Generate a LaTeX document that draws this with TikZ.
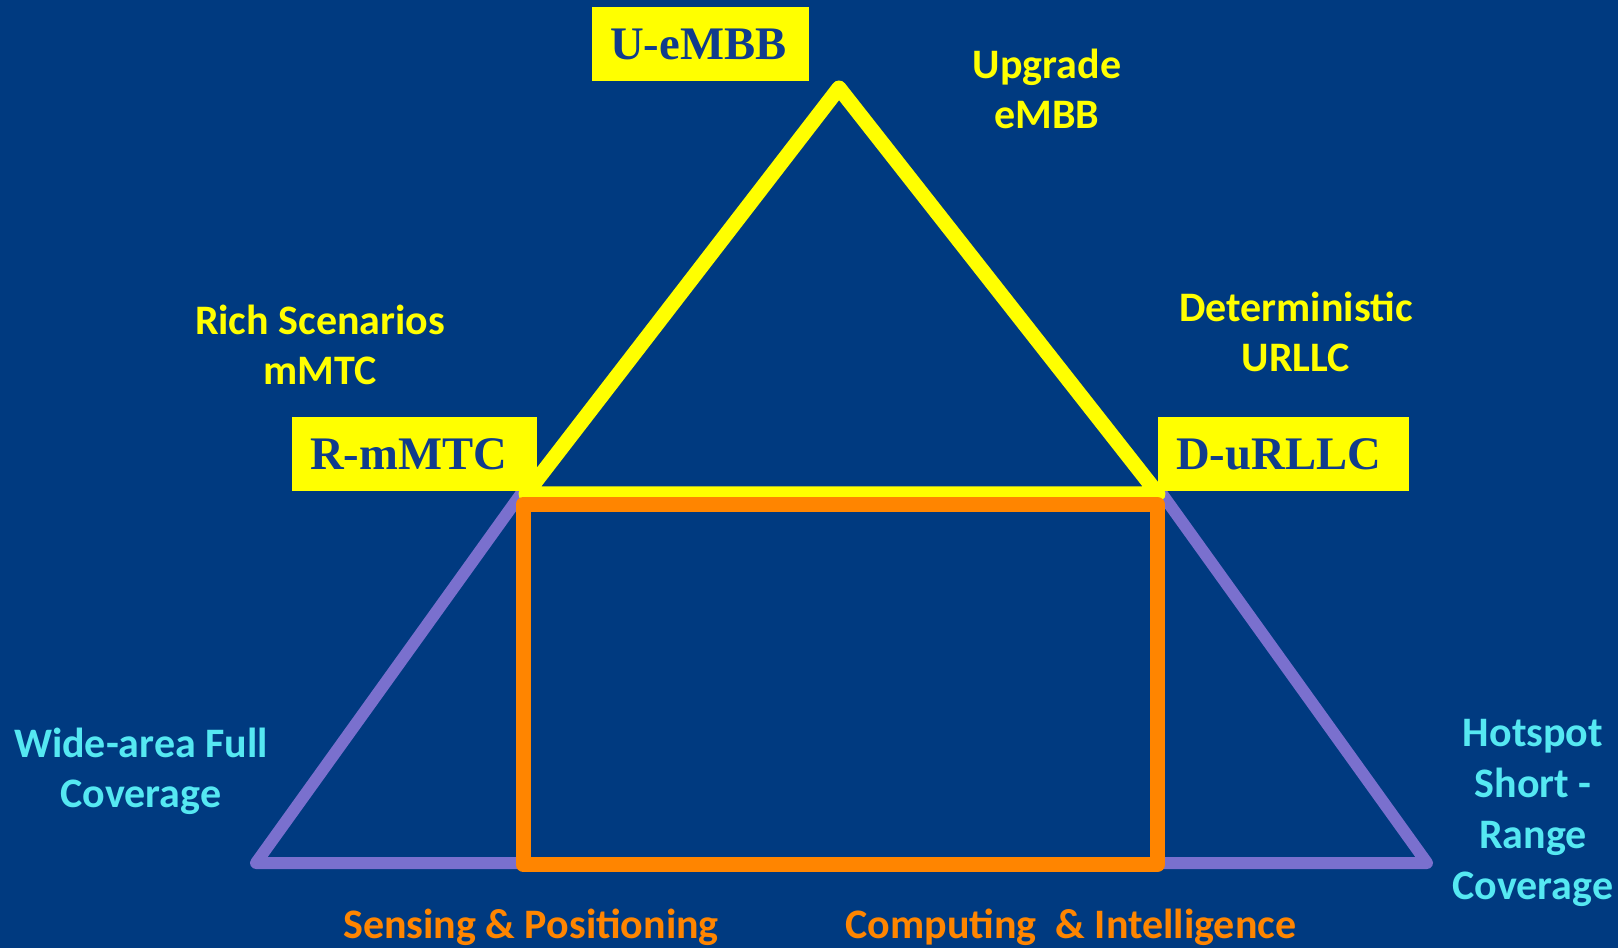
\documentclass[tikz,border=0pt]{standalone}
\usepackage{fontspec}
\setmainfont{Carlito}
\newfontfamily\boxfont{Liberation Serif}
\definecolor{bgblue}{RGB}{0,58,128}
\definecolor{boxtext}{RGB}{16,60,140}
\definecolor{tyellow}{RGB}{255,255,0}
\definecolor{tcyan}{RGB}{85,232,242}
\definecolor{torange}{RGB}{255,133,0}
\definecolor{tpurple}{RGB}{122,112,206}
\begin{document}
\begin{tikzpicture}[x=0.75pt,y=-0.75pt,
  lbl/.style={font=\bfseries\fontsize{31.5}{37.5}\selectfont, align=center, inner sep=0pt},
  ybox/.style={fill=tyellow, anchor=north west, minimum height=55.5pt, inner xsep=13.5pt, inner ysep=0pt,
    align=left, font=\boxfont\bfseries\fontsize{35}{40}\selectfont, text=boxtext},
  tri/.style={line width=11.25pt, line join=round, line cap=round}]
\fill[bgblue] (0,0) rectangle (1618,948);
\useasboundingbox (0,0) rectangle (1618,948);
% coordinates
\coordinate (apex) at (839,88);
\coordinate (yl) at (526,494);
\coordinate (yr) at (1158,494);
\coordinate (pl) at (521,494);
\coordinate (pr) at (1162,494);
\coordinate (pbl) at (256,863);
\coordinate (pbr) at (1427,863);
\coordinate (o1) at (523,504.5);
\coordinate (o2) at (1157.5,864.5);
% purple trapezoid
\draw[tpurple, line width=9pt, line join=round] (pl) -- (pbl) -- (pbr) -- (pr) -- cycle;
% yellow triangle
\draw[tri, tyellow] (yl) -- (apex) -- (yr) -- cycle;
% orange rectangle
\draw[torange, line width=11.25pt, line join=round] (o1) rectangle (o2);
% boxes
\node[ybox, text width=135.75pt] (ue) at (592,7) {\mbox{U-eMBB}};
\node[ybox, text width=156.75pt] (rm) at (292,417) {\mbox{R-mMTC}};
\node[ybox, text width=161.25pt] (du) at (1158,417) {\mbox{D-uRLLC}};
% labels
\node[lbl, text=tyellow] (up) at (1047,89) {Upgrade\\eMBB};
\node[lbl, text=tyellow] (rs) at (320,345) {Rich Scenarios\\mMTC};
\node[lbl, text=tyellow] (de) at (1296,332) {Deterministic\\URLLC};
\node[lbl, text=tcyan] (wa) at (141,771) {Wide-area Full\\Coverage};
\node[lbl, text=tcyan, font=\bfseries\fontsize{31.5}{38.3}\selectfont] (hs) at (1533,813) {Hotspot\\Short -\\Range\\Coverage};
\node[lbl, text=torange] (sp) at (531,927) {Sensing \& Positioning};
\node[lbl, text=torange] (ci) at (1071,927) {Computing~ \& Intelligence};
\end{tikzpicture}
\end{document}
